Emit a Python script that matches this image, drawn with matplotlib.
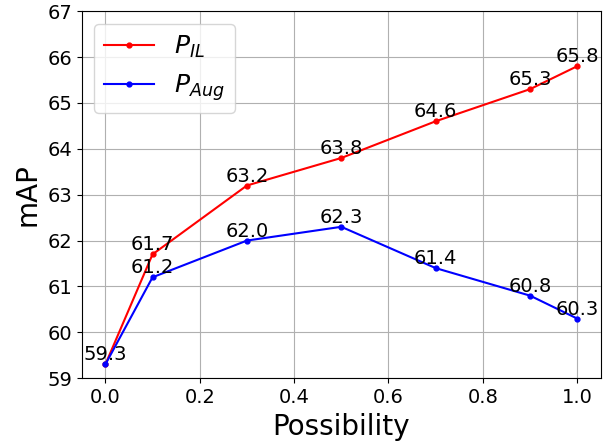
import matplotlib
matplotlib.use('Agg')
import matplotlib.pyplot as plt

x = [0.0, 0.1, 0.3, 0.5, 0.7, 0.9, 1.0]
p_il = [59.3, 61.7, 63.2, 63.8, 64.6, 65.3, 65.8]
p_aug = [59.3, 61.2, 62.0, 62.3, 61.4, 60.8, 60.3]

fig, ax = plt.subplots(figsize=(6.1, 4.45), dpi=100)
ax.plot(x, p_il, color='red', marker='.', markersize=7, label=r'$P_{IL}$')
ax.plot(x, p_aug, color='blue', marker='.', markersize=7, label=r'$P_{Aug}$')

for xi, yi in zip(x, p_il):
    ax.text(xi, yi, f'{yi:.1f}', ha='center', va='bottom', fontsize=14)
for xi, yi in zip(x, p_aug):
    if xi == 0.0:
        continue
    ax.text(xi, yi, f'{yi:.1f}', ha='center', va='bottom', fontsize=14)

ax.set_ylim(59, 67)
ax.set_xlabel('Possibility', fontsize=20)
ax.set_ylabel('mAP', fontsize=20)
ax.tick_params(labelsize=14)
ax.grid(True)
ax.legend(fontsize=18, loc='upper left')

plt.subplots_adjust(left=0.134, right=0.985, top=0.975, bottom=0.15)
plt.savefig('out.png')
